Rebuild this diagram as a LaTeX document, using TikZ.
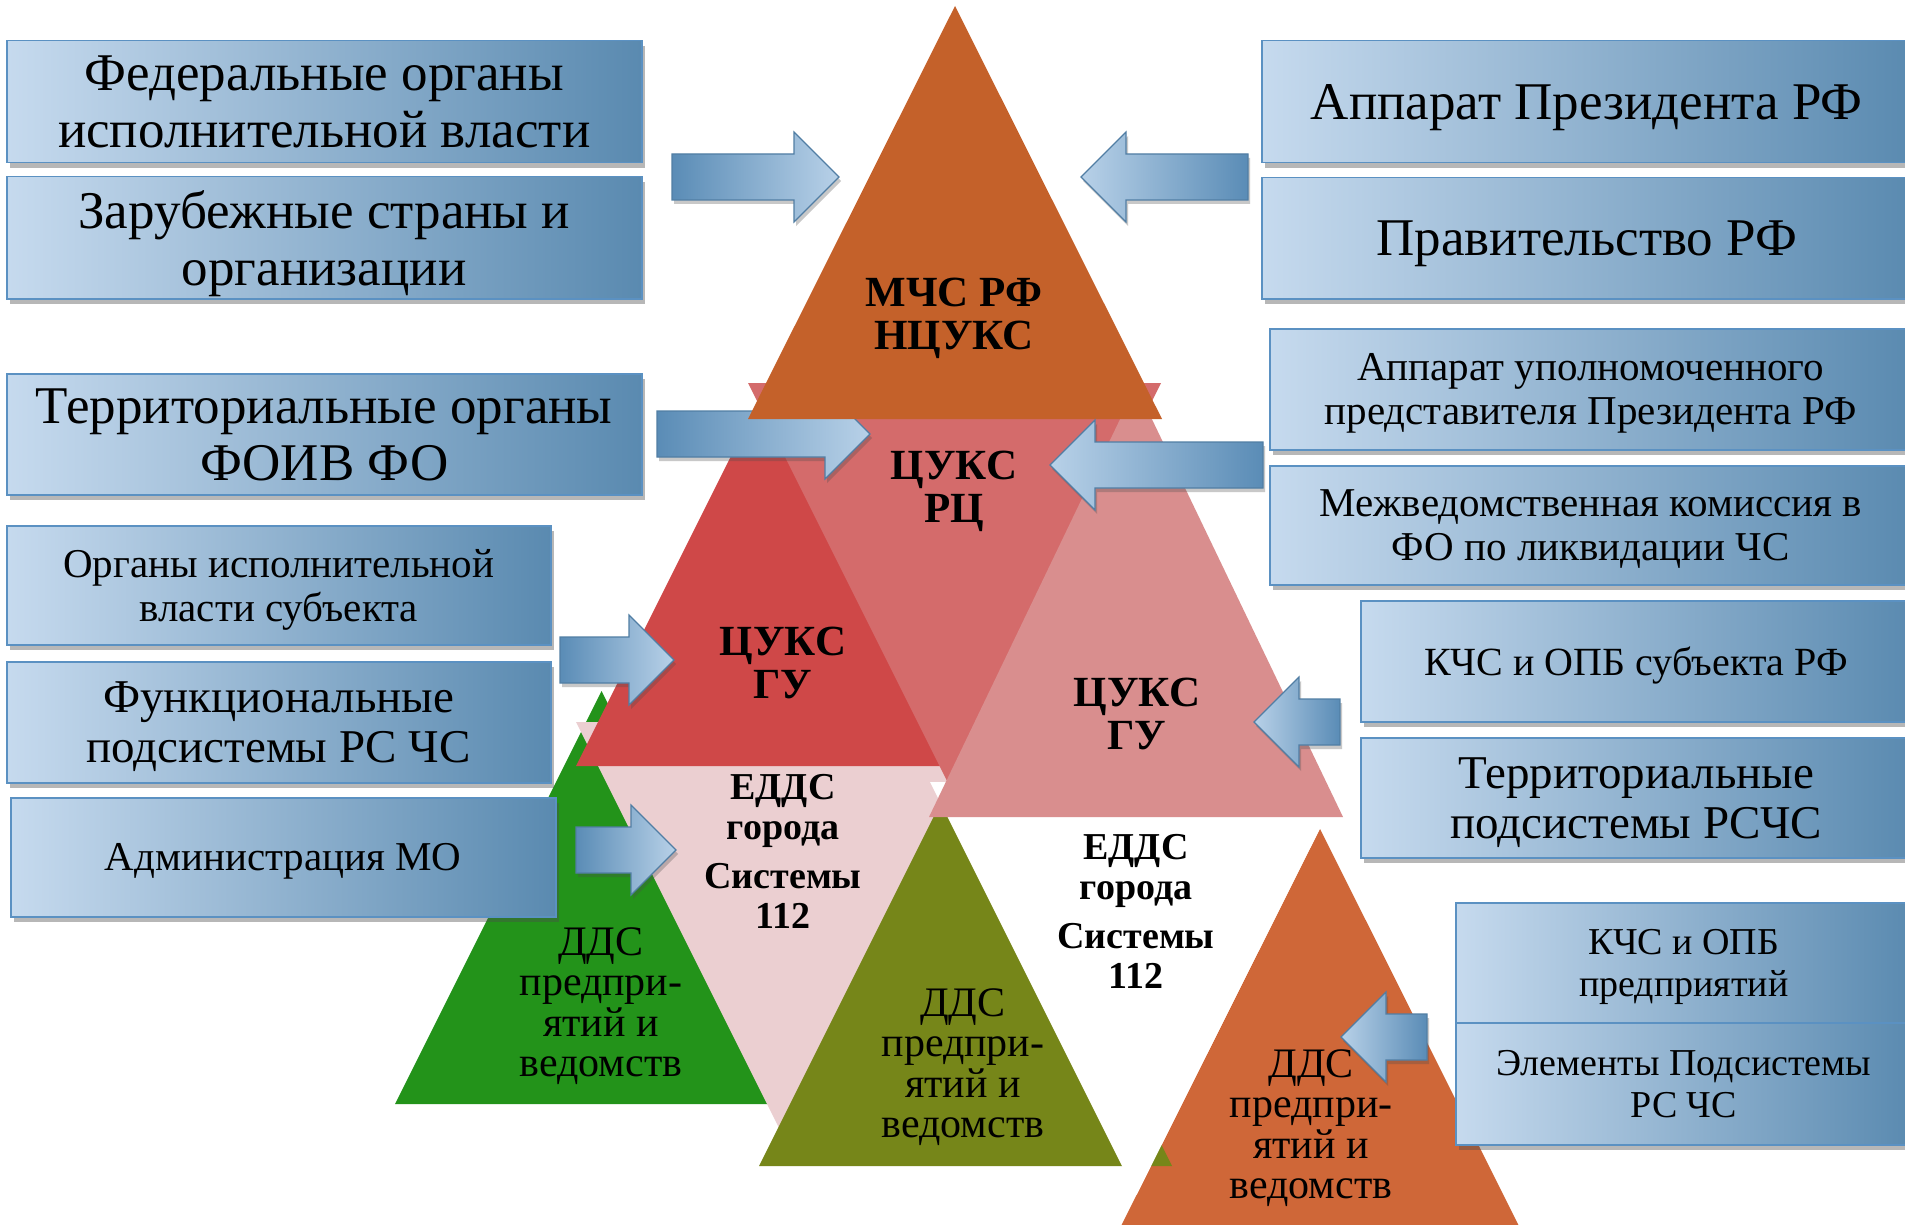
\documentclass[tikz,border=0pt]{standalone}
\usepackage{fontspec}
\setmainfont{Liberation Serif}
\usetikzlibrary{calc,shadows}

\definecolor{mchsorange}{HTML}{C4612A}
\definecolor{rcsalmon}{HTML}{D46B6B}
\definecolor{gured}{HTML}{CF4848}
\definecolor{gupink}{HTML}{D98E8E}
\definecolor{eddspink}{HTML}{EBCFD1}
\definecolor{ddsgreen}{HTML}{23931A}
\definecolor{ddsolive}{HTML}{768619}
\definecolor{ddsorange}{HTML}{CF6738}
\definecolor{boxlight}{HTML}{C6DAEE}
\definecolor{boxmid}{HTML}{7CAED6}
\definecolor{boxdark}{HTML}{5A8AB0}
\definecolor{boxedge}{HTML}{5B91C2}
\definecolor{arrowdark}{HTML}{5A8CB6}
\definecolor{arrowlight}{HTML}{B8D1E8}

\tikzset{
    infobox/.style={draw=boxedge, line width=1.5pt, left color=boxlight,
        middle color=boxmid, right color=boxdark, inner sep=0pt,
        align=center, anchor=north west, text depth=0pt,
        drop shadow={shadow xshift=3pt, shadow yshift=-5pt, opacity=0.4, fill=black!70}},
    bigtext/.style={font=\fontsize{53}{57}\selectfont},
    midtext/.style={font=\fontsize{47}{50}\selectfont},
    smalltext/.style={font=\fontsize{41}{44}\selectfont},
    tinytext/.style={font=\fontsize{38}{42}\selectfont},
    trilabel/.style={align=center, inner sep=0pt},
    boldlabel/.style={trilabel, font=\fontsize{43}{43}\selectfont\bfseries},
    eddslabel/.style={trilabel, font=\fontsize{38}{40}\selectfont\bfseries},
    ddslabel/.style={trilabel, font=\fontsize{42}{40.5}\selectfont},
    arrowbase/.style={draw=arrowdark!90!black, line width=1.2pt,
        drop shadow={shadow xshift=2pt, shadow yshift=-4pt, opacity=0.3, fill=black!70}},
    toright/.style={arrowbase, left color=arrowdark, right color=arrowlight},
    toleft/.style={arrowbase, left color=arrowlight, right color=arrowdark},
}

% block arrow from tail #2 to tip #3
\newcommand{\blockarrow}[3]{%
    \coordinate (#2hb) at ($(#3)!45pt!(#2)$);
    \path[#1] ($(#2)!23pt!90:(#3)$) -- ($(#2hb)!23pt!90:(#3)$)
        -- ($(#2hb)!45pt!90:(#3)$) -- (#3) -- ($(#2hb)!45pt!-90:(#3)$)
        -- ($(#2hb)!23pt!-90:(#3)$) -- ($(#2)!23pt!-90:(#3)$) -- cycle;
}

\begin{document}
\begin{tikzpicture}[x=1pt,y=-1pt]
        \useasboundingbox (0,0) rectangle (1905,1225);
        \clip (0,0) rectangle (1905,1225);
        \fill[white] (0,0) rectangle (1905,1225);

        % --- Triangles ---
        \fill[ddsgreen] (601.5,691) -- (808,1104) -- (395,1104) -- cycle;
        \fill[eddspink] (576,722) -- (989,722) -- (782.5,1135) -- cycle;
        \fill[gured] (782.5,353) -- (989,766) -- (576,766) -- cycle;
        \fill[rcsalmon] (748,383) -- (1161,383) -- (954.5,796) -- cycle;
        \fill[ddsorange] (1320,829) -- (1527,1242) -- (1113,1242) -- cycle;
        \fill[ddsolive] (965.5,753) -- (1172,1166) -- (759,1166) -- cycle;
        \fill[white] (930,782) -- (1343,782) -- (1136.5,1195) -- cycle;
        \fill[gupink] (1136,386) -- (1343,817) -- (929,817) -- cycle;

        % --- Arrow under the top triangle ---
        \coordinate (fdtail) at (657,434);
        \coordinate (fdtip) at (870,434);
        \blockarrow{toright}{fdtail}{fdtip}

        \fill[mchsorange] (955,6) -- (1162,419) -- (748,419) -- cycle;

        % --- Triangle labels ---
        \node[boldlabel] (mchs) at (954,318) {МЧС РФ\\НЦУКС};
        \node[boldlabel] (cuksrc) at (954,491) {ЦУКС\\РЦ};
        \node[boldlabel] (cuksgul) at (783,663) {ЦУКС\\ГУ};
        \node[boldlabel] (cuksgur) at (1137,714) {ЦУКС\\ГУ};
        \node[eddslabel] (eddsl) at (783,851) {ЕДДС\\города\\[9pt]Системы\\112};
        \node[eddslabel] (eddsr) at (1136,911) {ЕДДС\\города\\[9pt]Системы\\112};
        \node[ddslabel] (ddsg) at (601,1006) {ДДС\\предпри-\\ятий и\\ведомств};
        \node[ddslabel] (ddso) at (963,1067) {ДДС\\предпри-\\ятий и\\ведомств};
        \node[ddslabel] (ddsr) at (1311,1128) {ДДС\\предпри-\\ятий и\\ведомств};

        % --- Left boxes ---
        \node[infobox, bigtext, minimum width=635pt, minimum height=122pt] (fedorg) at (6,40)
            {Федеральные органы\\исполнительной власти};
        \node[infobox, bigtext, minimum width=635pt, minimum height=122pt] (foreign) at (6,176)
            {Зарубежные страны и\\организации};
        \node[infobox, bigtext, minimum width=635pt, minimum height=121pt] (terrorg) at (6,373)
            {Территориальные органы\\ФОИВ ФО};
        \node[infobox, smalltext, minimum width=544pt, minimum height=119pt] (subjorg) at (6,525)
            {Органы исполнительной\\власти субъекта};
        \node[infobox, midtext, minimum width=544pt, minimum height=121pt] (funcsub) at (6,661)
            {Функциональные\\подсистемы РС ЧС};
        \node[infobox, smalltext, minimum width=545pt, minimum height=119pt] (admmo) at (10,797)
            {Администрация МО};

        % --- Right boxes ---
        \node[infobox, bigtext, minimum width=650pt, minimum height=122pt] (apparat) at (1261,40)
            {Аппарат Президента РФ};
        \node[infobox, bigtext, minimum width=650pt, minimum height=121pt] (govrf) at (1261,177)
            {Правительство РФ};
        \node[infobox, smalltext, minimum width=642pt, minimum height=121pt] (envoy) at (1269,328)
            {Аппарат уполномоченного\\представителя Президента РФ};
        \node[infobox, smalltext, minimum width=642pt, minimum height=119pt] (commfo) at (1269,465)
            {Межведомственная комиссия в\\ФО по ликвидации ЧС};
        \node[infobox, smalltext, font=\fontsize{40}{44}\selectfont, minimum width=551pt, minimum height=121pt] (kchssubj) at (1360,600)
            {КЧС и ОПБ субъекта РФ};
        \node[infobox, midtext, minimum width=551pt, minimum height=120pt] (terrsub) at (1360,737)
            {Территориальные\\подсистемы РСЧС};
        \node[infobox, tinytext, minimum width=456pt, minimum height=120pt] (kchsent) at (1455,902)
            {КЧС и ОПБ\\предприятий};
        \node[infobox, tinytext, minimum width=456pt, minimum height=122pt] (elements) at (1455,1022)
            {Элементы Подсистемы\\РС ЧС};

        % --- Arrows ---
        \coordinate (fedtail) at (672,177);
        \coordinate (fedtip) at (839,177);
        \blockarrow{toright}{fedtail}{fedtip}
        \coordinate (prestail) at (1248,177);
        \coordinate (prestip) at (1081,177);
        \blockarrow{toleft}{prestail}{prestip}
        \coordinate (envtail) at (1263,465);
        \coordinate (envtip) at (1050,465);
        \blockarrow{toleft}{envtail}{envtip}
        \coordinate (subjtail) at (560,660);
        \coordinate (subjtip) at (674,660);
        \blockarrow{toright}{subjtail}{subjtip}
        \coordinate (motail) at (576,850);
        \coordinate (motip) at (676,850);
        \blockarrow{toright}{motail}{motip}
        \coordinate (kchstail) at (1340,722);
        \coordinate (kchstip) at (1254,722);
        \blockarrow{toleft}{kchstail}{kchstip}
        \coordinate (enttail) at (1427,1037);
        \coordinate (enttip) at (1341,1037);
        \blockarrow{toleft}{enttail}{enttip}
\end{tikzpicture}
\end{document}
